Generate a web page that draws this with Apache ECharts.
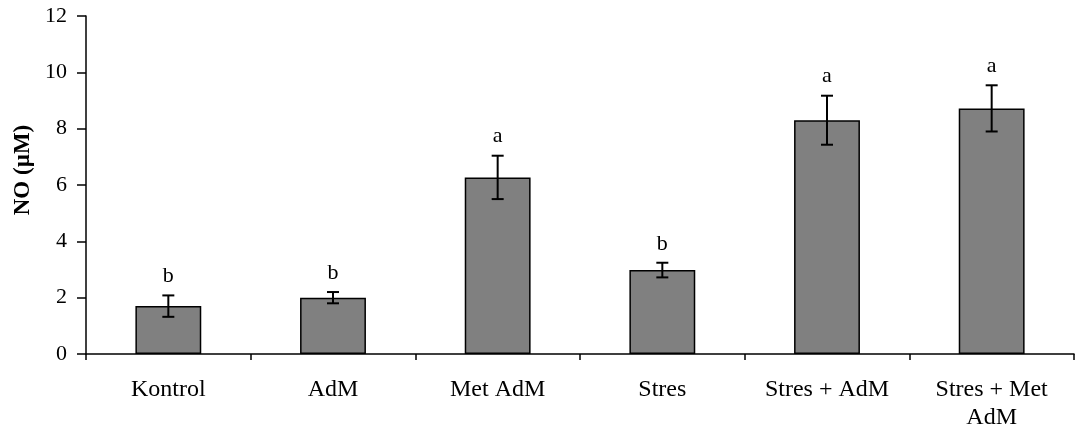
<!DOCTYPE html>
<html>
<head>
<meta charset="utf-8">
<style>
  html, body { margin: 0; padding: 0; background: #fff; }
  #chart { width: 1077px; height: 434px; }
</style>
<script src="https://cdn.jsdelivr.net/npm/echarts@6/dist/echarts.min.js"></script>
</head>
<body>
<div id="chart"></div>
<script>
// data
var categories = ['Kontrol', 'AdM', 'Met AdM', 'Stres', 'Stres + AdM', 'Stres + Met\nAdM'];
var means = [1.7, 2.0, 6.27, 2.98, 8.3, 8.72];
var errors = [0.38, 0.2, 0.77, 0.26, 0.87, 0.82];
var letters = ['b', 'b', 'a', 'b', 'a', 'a'];

var serif = '"Liberation Serif", "DejaVu Serif", serif';

var errData = means.map(function (m, i) {
    return [i, m - errors[i], m + errors[i]];
});

var chart = echarts.init(document.getElementById('chart'));

var option = {
    animation: false,
    grid: {
        left: 86,
        right: 3,
        top: 16,
        bottom: 80
    },
    xAxis: {
        type: 'category',
        data: categories,
        axisLine: { lineStyle: { color: '#000', width: 1.5 } },
        axisTick: {
            show: true,
            length: 6,
            lineStyle: { color: '#000', width: 1.5 }
        },
        axisLabel: {
            color: '#000',
            fontFamily: serif,
            fontSize: 24,
            margin: 22,
            lineHeight: 28,
            interval: 0
        }
    },
    yAxis: {
        type: 'value',
        min: 0,
        max: 12,
        interval: 2,
        name: 'NO (µM)',
        nameLocation: 'middle',
        nameGap: 49,
        nameTextStyle: {
            color: '#000',
            fontFamily: serif,
            fontWeight: 'bold',
            fontSize: 23,
            padding: [0, 0, 0, 30]
        },
        splitLine: { show: false },
        axisLine: { show: true, lineStyle: { color: '#000', width: 1.5 } },
        axisTick: { show: true, length: 9, lineStyle: { color: '#000', width: 1.5 } },
        axisLabel: {
            color: '#000',
            fontFamily: serif,
            fontSize: 22,
            margin: 19
        }
    },
    series: [{
        type: 'bar',
        data: means,
        barWidth: '40%',
        itemStyle: {
            color: '#808080',
            borderColor: '#000',
            borderWidth: 1.5
        }
    }, {
        type: 'custom',
        data: errData,
        z: 10,
        renderItem: function (params, api) {
            var x = api.value(0);
            var lo = api.coord([x, api.value(1)]);
            var hi = api.coord([x, api.value(2)]);
            var cap = 6;
            var style = { stroke: '#000', lineWidth: 2 };
            return {
                type: 'group',
                children: [
                    { type: 'line', shape: { x1: hi[0], y1: hi[1], x2: lo[0], y2: lo[1] }, style: style },
                    { type: 'line', shape: { x1: hi[0] - cap, y1: hi[1], x2: hi[0] + cap, y2: hi[1] }, style: style },
                    { type: 'line', shape: { x1: lo[0] - cap, y1: lo[1], x2: lo[0] + cap, y2: lo[1] }, style: style },
                    {
                        type: 'text',
                        style: {
                            text: letters[params.dataIndex],
                            x: hi[0],
                            y: hi[1] - 19,
                            align: 'center',
                            verticalAlign: 'middle',
                            fill: '#000',
                            font: '22px ' + serif
                        }
                    }
                ]
            };
        }
    }]
};

chart.setOption(option);
</script>
</body>
</html>
